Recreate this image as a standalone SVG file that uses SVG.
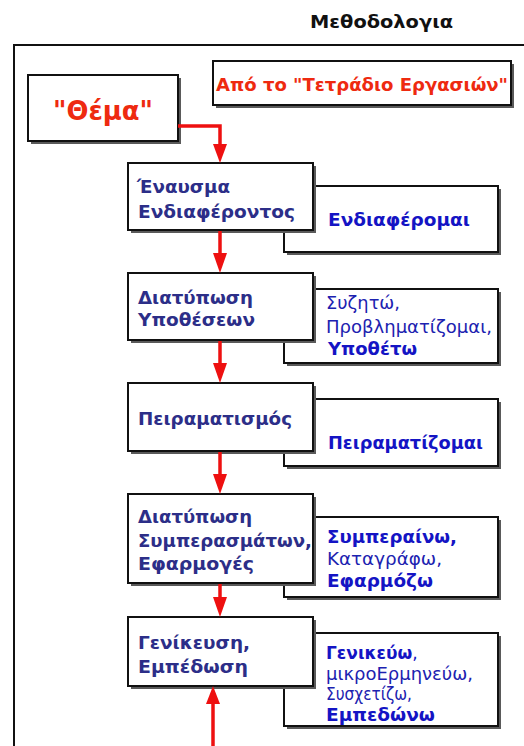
<svg xmlns="http://www.w3.org/2000/svg" width="524" height="746" viewBox="0 0 524 746">
<defs>
<style>
.box{fill:#fff;stroke:#111;stroke-width:2}
.sh{fill:#5a5a5a}
.t{font-family:"DejaVu Sans",Verdana,sans-serif;font-weight:bold;font-size:17.5px;fill:#2c2e88}
.sb{font-family:"DejaVu Sans",Verdana,sans-serif;font-weight:bold;font-size:17.5px;fill:#1414c4}
.sn{font-family:"DejaVu Sans",Verdana,sans-serif;font-weight:normal;font-size:18px;fill:#1c22b0}
.red{font-family:"DejaVu Sans",Verdana,sans-serif;font-weight:bold;fill:#ee2a10}
.conn{fill:none;stroke:#ee1010;stroke-width:3.5}
.ah{fill:#ee1010}
</style>
</defs>
<rect width="524" height="746" fill="#fff"/>
<text x="310" y="28" textLength="143" lengthAdjust="spacingAndGlyphs" style="font-family:'DejaVu Sans',Verdana,sans-serif;font-weight:bold;font-size:17.5px;fill:#111">Μεθοδολογια</text>
<path d="M14,746 L14,45 L524,45" fill="none" stroke="#111" stroke-width="2"/>

<g id="source">
<rect x="216" y="64" width="298" height="44" class="sh"/>
<rect x="213" y="61" width="298" height="44" class="box"/>
<text x="216" y="91" textLength="292" lengthAdjust="spacingAndGlyphs" class="red" style="font-size:18px">Από το "Τετράδιο Εργασιών"</text>
</g>

<g id="n0">
<rect x="31" y="78" width="150" height="66" class="sh"/>
<rect x="28" y="75" width="150" height="66" class="box"/>
<text x="53" y="120" textLength="100" lengthAdjust="spacingAndGlyphs" class="red" style="font-size:27px">"Θέμα"</text>
</g>

<g id="s1">
<rect x="287" y="189" width="214" height="66" class="sh"/>
<rect x="284" y="186" width="214" height="66" class="box"/>
<text x="328" y="226" textLength="142" lengthAdjust="spacingAndGlyphs" class="sb">Ενδιαφέρομαι</text>
</g>
<g id="n1">
<rect x="131" y="166" width="185" height="67" class="sh"/>
<rect x="128" y="163" width="185" height="67" class="box"/>
<text x="137" y="193" textLength="93" lengthAdjust="spacingAndGlyphs" class="t">Έναυσμα</text>
<text x="138" y="218" textLength="157" lengthAdjust="spacingAndGlyphs" class="t">Ενδιαφέροντος</text>
</g>

<g id="s2">
<rect x="287" y="292" width="214" height="74" class="sh"/>
<rect x="284" y="289" width="214" height="74" class="box"/>
<text x="326" y="309" textLength="74" lengthAdjust="spacingAndGlyphs" class="sn">Συζητώ,</text>
<text x="326" y="333" textLength="166" lengthAdjust="spacingAndGlyphs" class="sn">Προβληματίζομαι,</text>
<text x="328" y="355" textLength="89" lengthAdjust="spacingAndGlyphs" class="sb">Υποθέτω</text>
</g>
<g id="n2">
<rect x="131" y="276" width="185" height="67" class="sh"/>
<rect x="128" y="273" width="185" height="67" class="box"/>
<text x="138" y="304" textLength="115" lengthAdjust="spacingAndGlyphs" class="t">Διατύπωση</text>
<text x="138" y="326" textLength="117" lengthAdjust="spacingAndGlyphs" class="t">Υποθέσεων</text>
</g>

<g id="s3">
<rect x="287" y="402" width="214" height="67" class="sh"/>
<rect x="284" y="399" width="214" height="67" class="box"/>
<text x="328" y="449" textLength="155" lengthAdjust="spacingAndGlyphs" class="sb">Πειραματίζομαι</text>
</g>
<g id="n3">
<rect x="131" y="386" width="185" height="68" class="sh"/>
<rect x="128" y="383" width="185" height="68" class="box"/>
<text x="138" y="425" textLength="154" lengthAdjust="spacingAndGlyphs" class="t">Πειραματισμός</text>
</g>

<g id="s4">
<rect x="287" y="520" width="214" height="80" class="sh"/>
<rect x="284" y="517" width="214" height="80" class="box"/>
<text x="327" y="543" textLength="130" lengthAdjust="spacingAndGlyphs" class="sb">Συμπεραίνω,</text>
<text x="327" y="565" textLength="115" lengthAdjust="spacingAndGlyphs" class="sn">Καταγράφω,</text>
<text x="327" y="587" textLength="106" lengthAdjust="spacingAndGlyphs" class="sb">Εφαρμόζω</text>
</g>
<g id="n4">
<rect x="131" y="497" width="185" height="89" class="sh"/>
<rect x="128" y="494" width="185" height="89" class="box"/>
<text x="138" y="523" textLength="114" lengthAdjust="spacingAndGlyphs" class="t">Διατύπωση</text>
<text x="138" y="547" textLength="174" lengthAdjust="spacingAndGlyphs" class="t">Συμπερασμάτων,</text>
<text x="138" y="570" textLength="116" lengthAdjust="spacingAndGlyphs" class="t">Εφαρμογές</text>
</g>

<g id="s5">
<rect x="287" y="636" width="214" height="93" class="sh"/>
<rect x="284" y="633" width="214" height="93" class="box"/>
<text x="326" y="659" class="sb" style="font-size:17px">Γενικεύω<tspan style="font-weight:normal">,</tspan></text>
<text x="326" y="680" textLength="147" lengthAdjust="spacingAndGlyphs" class="sn">μικροΕρμηνεύω,</text>
<text x="326" y="700" textLength="86" lengthAdjust="spacingAndGlyphs" class="sn">Συσχετίζω,</text>
<text x="326" y="721" textLength="109" lengthAdjust="spacingAndGlyphs" class="sb">Εμπεδώνω</text>
</g>
<g id="n5">
<rect x="131" y="620" width="185" height="69" class="sh"/>
<rect x="128" y="617" width="185" height="69" class="box"/>
<text x="138" y="649" textLength="112" lengthAdjust="spacingAndGlyphs" class="t">Γενίκευση,</text>
<text x="138" y="673" textLength="110" lengthAdjust="spacingAndGlyphs" class="t">Εμπέδωση</text>
</g>

<g id="connectors">
<path d="M178,126 L220,126 L220,145" class="conn"/>
<path d="M213,144 L227,144 L220,163 Z" class="ah"/>
<path d="M220,231 L220,255" class="conn"/>
<path d="M213,253 L227,253 L220,273 Z" class="ah"/>
<path d="M220,341 L220,365" class="conn"/>
<path d="M213,363 L227,363 L220,383 Z" class="ah"/>
<path d="M220,452 L220,476" class="conn"/>
<path d="M213,474 L227,474 L220,494 Z" class="ah"/>
<path d="M220,584 L220,599" class="conn"/>
<path d="M213,597 L227,597 L220,617 Z" class="ah"/>
<path d="M213,746 L213,702" class="conn"/>
<path d="M206,704 L220,704 L213,686 Z" class="ah"/>
</g>
</svg>
